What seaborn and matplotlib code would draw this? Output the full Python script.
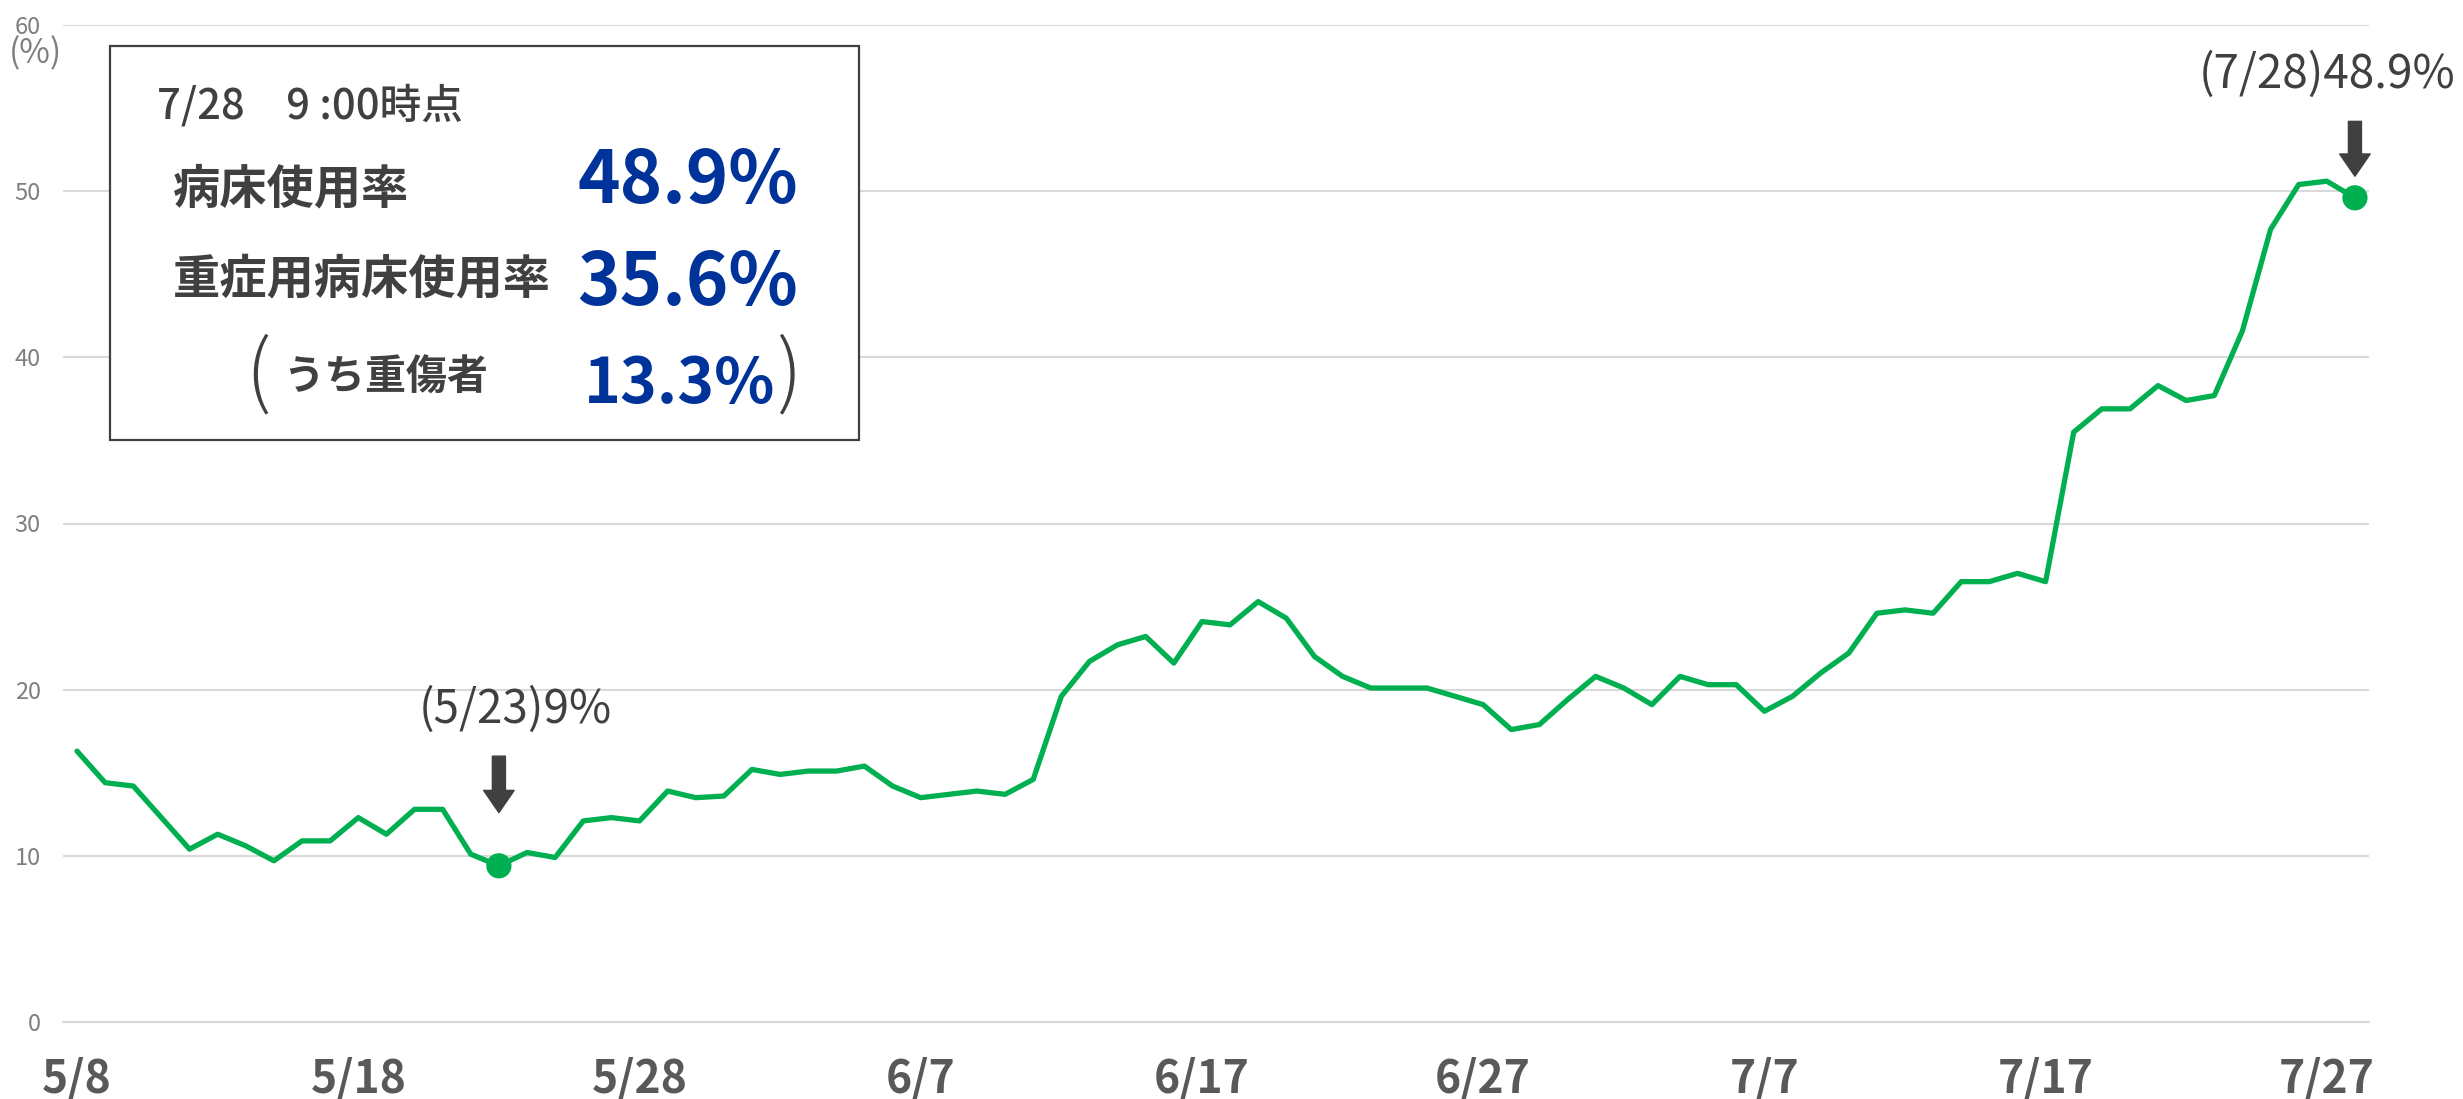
import numpy as np
import pandas as pd
import matplotlib
matplotlib.use("Agg")
import matplotlib.pyplot as plt
import seaborn as sns
from matplotlib.patches import Rectangle

# 病床使用率 (%) daily, 5/8 - 7/28
may_days = list(range(8, 32))
jun_days = list(range(1, 31))
jul_days = list(range(1, 29))
rate_may = [16.3, 14.4, 14.2, 12.3, 10.4, 11.3, 10.6, 9.7, 10.9, 10.9, 12.3, 11.3,
            12.8, 12.8, 10.1, 9.4, 10.2, 9.9, 12.1, 12.3, 12.1, 13.9, 13.5, 13.6]
rate_jun = [15.2, 14.9, 15.1, 15.1, 15.4, 14.2, 13.5, 13.7, 13.9, 13.7, 14.6, 19.6,
            21.7, 22.7, 23.2, 21.6, 24.1, 23.9, 25.3, 24.3, 22.0, 20.8, 20.1, 20.1,
            20.1, 19.6, 19.1, 17.6, 17.9, 19.4]
rate_jul = [20.8, 20.1, 19.1, 20.8, 20.3, 20.3, 18.7, 19.6, 21.0, 22.2, 24.6, 24.8,
            24.6, 26.5, 26.5, 27.0, 26.5, 35.5, 36.9, 36.9, 38.3, 37.4, 37.7, 41.6,
            47.7, 50.4, 50.6, 49.6]

highlight = ["5/23", "7/28"]
y_ticks = [0, 10, 20, 30, 40, 50, 60]

dates = [f"5/{d}" for d in may_days] + [f"6/{d}" for d in jun_days] + [f"7/{d}" for d in jul_days]
df = pd.DataFrame({"date": dates, "rate": rate_may + rate_jun + rate_jul})
df["idx"] = np.arange(len(df))

sns.set_theme(style="white")
JP = ["Noto Sans CJK JP", "DejaVu Sans"]
plt.rcParams["font.family"] = JP

GREEN = "#00B050"
DARK = "#404040"
BLUE = "#003399"
GRID = "#D9D9D9"

W, H = 2463, 1099
fig = plt.figure(figsize=(W / 100, H / 100), dpi=100)
ax = fig.add_axes([63 / W, 1 - 1022 / H, (2369 - 63) / W, (1022 - 25) / H])


def fx(x):
    return x / W


def fy(y):
    return 1 - y / H


sns.lineplot(data=df, x="idx", y="rate", color=GREEN, linewidth=3.8, ax=ax, zorder=3)
pts = df[df["date"].isin(highlight)]
sns.scatterplot(data=pts, x="idx", y="rate", color=GREEN, s=330, edgecolor="none",
                ax=ax, zorder=4)

ax.set_xlim(-0.5, len(df) - 0.5)
ax.set_ylim(0, 60)
ax.set_xlabel("")
ax.set_ylabel("")

ax.set_xticks(df["idx"][::10])
ax.set_xticklabels(df["date"][::10], fontsize=32, fontweight="bold", color="#595959")
ax.set_xticks(np.arange(-0.5, len(df), 10), minor=True)
ax.tick_params(axis="x", which="major", length=0, pad=25)
ax.tick_params(axis="x", which="minor", length=11, width=1.5, color=GRID, direction="out")

ax.set_yticks(y_ticks)
ax.set_yticklabels([str(v) for v in y_ticks], fontsize=17, color="#7F7F7F")
ax.tick_params(axis="y", length=0, pad=16)
ax.yaxis.grid(True, color=GRID, linewidth=1.5)
ax.xaxis.grid(False)
for s in ["top", "right", "left"]:
    ax.spines[s].set_visible(False)
ax.spines["bottom"].set_color(GRID)
ax.spines["bottom"].set_linewidth(1.5)

fig.text(fx(35), fy(54), "(%)", fontsize=24, color="#7F7F7F", ha="center", va="center")

# annotations on the line
i_min = int(pts["idx"].iloc[0])
i_last = int(pts["idx"].iloc[1])
arrow = dict(arrowstyle="simple,head_width=1.1,head_length=0.8,tail_width=0.47",
             color=DARK, mutation_scale=20, shrinkA=0, shrinkB=0)
ax.annotate("", xy=(i_min, 12.6), xytext=(i_min, 16.0), arrowprops=arrow)
ax.annotate("", xy=(i_last, 50.9), xytext=(i_last, 54.2), arrowprops=arrow)
ax.text(i_min + 0.6, 18.8, "(5/23)9%", fontsize=33, color=DARK, ha="center", va="center")
ax.text(i_last - 1.0, 57.0, "(7/28)48.9%", fontsize=33, color=DARK, ha="center", va="center")

# info box
box = Rectangle((fx(110), fy(440)), fx(859) - fx(110), fy(46) - fy(440),
                transform=fig.transFigure, facecolor="white", edgecolor=DARK,
                linewidth=1.6, zorder=5, clip_on=False)
ax.add_patch(box)

fig.text(fx(157), fy(119), "7/28\u30009 :00時点", fontsize=30, color=DARK, fontweight="medium",
         ha="left", va="baseline", zorder=6)
fig.text(fx(173), fy(203), "病床使用率", fontsize=34, color=DARK, fontweight="bold",
         ha="left", va="baseline", zorder=6)
fig.text(fx(173), fy(293), "重症用病床使用率", fontsize=34, color=DARK, fontweight="bold",
         ha="left", va="baseline", zorder=6)
fig.text(fx(283), fy(390), "うち重傷者", fontsize=29.5, color=DARK, fontweight="bold",
         ha="left", va="baseline", zorder=6)
fig.text(fx(798), fy(203), "48.9%", fontsize=52, color=BLUE, fontweight="bold",
         ha="right", va="baseline", zorder=6)
fig.text(fx(798), fy(305), "35.6%", fontsize=52, color=BLUE, fontweight="bold",
         ha="right", va="baseline", zorder=6)
fig.text(fx(775), fy(403), "13.3%", fontsize=45, color=BLUE, fontweight="bold",
         ha="right", va="baseline", zorder=6)
fig.text(fx(258), fy(376), "(", fontsize=58, color=DARK, fontweight="light",
         ha="center", va="center", zorder=6)
fig.text(fx(789), fy(376), ")", fontsize=58, color=DARK, fontweight="light",
         ha="center", va="center", zorder=6)

fig.savefig("out.png", dpi=100, facecolor="white")
